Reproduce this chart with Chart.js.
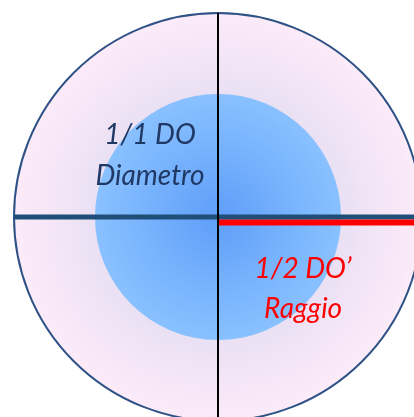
<!DOCTYPE html>
<html>
<head>
<meta charset="utf-8">
<script src="https://cdn.jsdelivr.net/npm/chart.js@4"></script>
<style>
  html, body { margin: 0; padding: 0; background: #fff; }
  #wrap { width: 414px; height: 417px; position: relative; }
</style>
</head>
<body>
<div id="wrap"><canvas id="circle"></canvas></div>
<script>
"use strict";

// outer radius = 1 (DO/2), everything in those units
var circleSizes = [1, 0.603];          // outer disc, inner disc
var circleNames = ["esterno", "interno"];
var diameterLine = [{x: -1, y: 0.0}, {x: 1.2, y: 0.0}];
var radiusLine = [{x: 0, y: -0.027}, {x: 1.2, y: -0.027}];
var axisLine = [{x: 0, y: 1}, {x: 0, y: -1.2}];
var labelsDiameter = ["1/1 DO", "Diametro"];
var labelsRadius = ["1/2 DO\u2019", "Raggio"];
var labelPosDiameter = {x: -0.333, y: 0.358};
var labelPosRadius = {x: 0.417, y: -0.299};

function pxRadius(chart, r) {
    var s = chart.scales.x;
    return Math.abs(s.getPixelForValue(r) - s.getPixelForValue(0));
}

function radialFill(size, inner, outer) {
    return function (c) {
        var chart = c.chart;
        if (!chart.chartArea) return inner;
        var cx = chart.scales.x.getPixelForValue(0);
        var cy = chart.scales.y.getPixelForValue(0);
        var r = pxRadius(chart, size);
        var g = chart.ctx.createRadialGradient(cx, cy, 0, cx, cy, r);
        g.addColorStop(0, inner);
        g.addColorStop(1, outer);
        return g;
    };
}

// text labels placed through the scales
var textPlugin = {
    id: "textLabels",
    afterDatasetsDraw: function (chart) {
        var ctx = chart.ctx;
        var sx = chart.scales.x, sy = chart.scales.y;
        ctx.save();
        ctx.font = "italic 28px Lato, sans-serif";
        ctx.textAlign = "center";
        ctx.textBaseline = "alphabetic";
        ctx.fillStyle = "#1f3864";
        var x = sx.getPixelForValue(labelPosDiameter.x), y = sy.getPixelForValue(labelPosDiameter.y);
        ctx.fillText(labelsDiameter[0], x, y);
        ctx.fillText(labelsDiameter[1], x, y + 41);
        ctx.fillStyle = "#ff0000";
        x = sx.getPixelForValue(labelPosRadius.x); y = sy.getPixelForValue(labelPosRadius.y);
        ctx.fillText(labelsRadius[0], x, y);
        ctx.fillText(labelsRadius[1], x, y + 40);
        ctx.restore();
    }
};

var ctx = document.getElementById("circle").getContext("2d");
var myChart = new Chart(ctx, {
    data: {
        datasets: [
            {
                type: "line",
                label: "Raggio",
                data: radiusLine,
                borderColor: "#ff0000",
                borderWidth: 6,
                pointRadius: 0,
                order: 1
            },
            {
                type: "line",
                label: "Diametro",
                data: diameterLine,
                borderColor: "#1f4e79",
                borderWidth: 5,
                pointRadius: 0,
                order: 2
            },
            {
                type: "line",
                label: "asse",
                data: axisLine,
                borderColor: "#000000",
                borderWidth: 2,
                pointRadius: 0,
                order: 0
            },
            {
                type: "scatter",
                label: circleNames[1],
                data: [{x: 0, y: 0}],
                pointBackgroundColor: radialFill(circleSizes[1], "#5f9ef9", "#89c1ff"),
                pointBorderWidth: 0,
                pointRadius: function (c) { return pxRadius(c.chart, circleSizes[1]); },
                order: 3
            },
            {
                type: "scatter",
                label: circleNames[0],
                data: [{x: 0, y: 0}],
                pointBackgroundColor: radialFill(circleSizes[0], "#cfd0ec", "#fcebf9"),
                pointBorderColor: "#2f5286",
                pointBorderWidth: 2,
                pointRadius: function (c) { return pxRadius(c.chart, circleSizes[0]); },
                order: 4
            }
        ]
    },
    options: {
        responsive: true,
        maintainAspectRatio: false,
        animation: false,
        events: [],
        layout: { padding: 0 },
        plugins: { legend: { display: false }, tooltip: { enabled: false } },
        scales: {
            x: { type: "linear", display: false, min: -218 / 204, max: 196 / 204 },
            y: { type: "linear", display: false, min: -200 / 204, max: 217 / 204 }
        }
    },
    plugins: [textPlugin]
});
</script>
</body>
</html>
